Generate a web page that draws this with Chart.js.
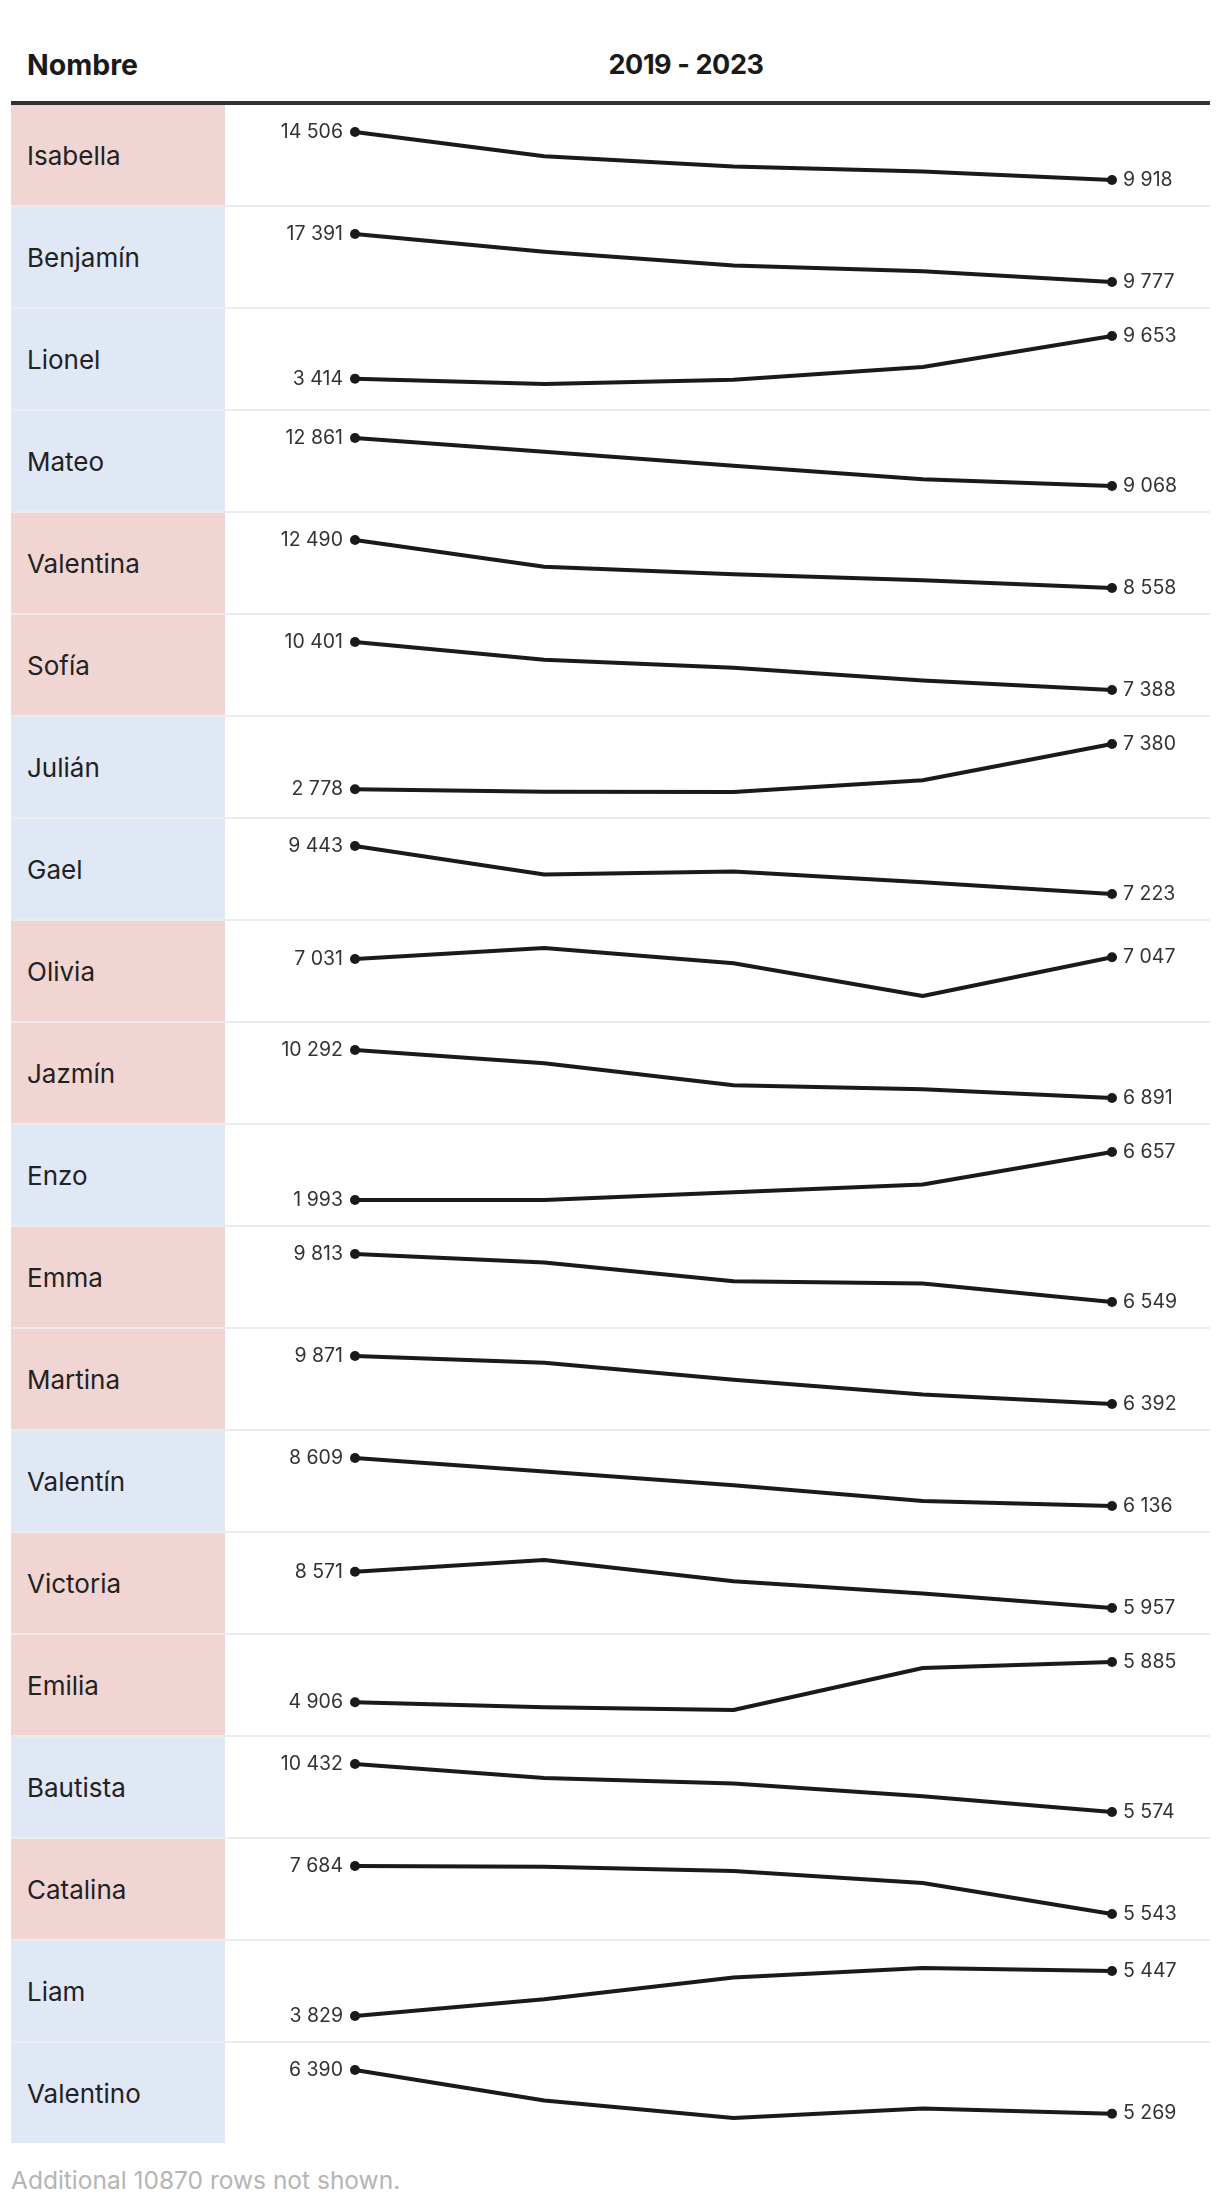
<!DOCTYPE html>
<html lang="es">
<head>
<meta charset="utf-8">
<title>Nombres 2019 - 2023</title>
<script src="https://cdn.jsdelivr.net/npm/chart.js@4"></script>
<style>
    body { margin: 0; background: #fff; font-family: Inter, Roboto, sans-serif; color: #1a1a1a; }
    .tabla { position: absolute; left: 11px; top: 0; width: 1199px; }
    .cabecera { position: relative; height: 101px; border-bottom: 4px solid #333; }
    .cabecera div { position: absolute; top: 48px; font-size: 27px; font-weight: 700; line-height: 34px; letter-spacing: -0.4px; }
    .fila { display: flex; height: 100px; border-bottom: 2px solid rgba(0, 0, 0, 0.075); }
    .fila:last-child { border-bottom: none; }
    .nombre { width: 198px; padding-left: 16px; display: flex; align-items: center; font-size: 26px; color: #222; }
    .spark { position: relative; width: 985px; height: 100px; }
    .pie { margin-top: 22px; font-size: 24.5px; color: #b5b5b5; line-height: 30px; }
</style>
</head>
<body>
<div class="tabla">
    <div class="cabecera">
        <div style="left:16px; font-size:28.5px; letter-spacing:0;">Nombre</div>
        <div style="left:675px; transform:translateX(-50%);">2019 - 2023</div>
    </div>
    <div id="filas"></div>
    <div class="pie">Additional 10870 rows not shown.</div>
</div>

<script>
const anios = ['2019', '2020', '2021', '2022', '2023'];

const nombres = ['Isabella', 'Benjamín', 'Lionel', 'Mateo', 'Valentina', 'Sofía', 'Julián', 'Gael', 'Olivia', 'Jazmín',
    'Enzo', 'Emma', 'Martina', 'Valentín', 'Victoria', 'Emilia', 'Bautista', 'Catalina', 'Liam', 'Valentino'];

// F = femenino, M = masculino
const generos = ['F', 'M', 'M', 'M', 'F', 'F', 'M', 'M', 'F', 'F',
    'M', 'F', 'F', 'M', 'F', 'F', 'M', 'F', 'M', 'M'];

// valores 2019..2023 por nombre (los intermedios)
const valores = [
    [14506, 12196, 11201, 10720, 9918],
    [17391, 14569, 12386, 11481, 9777],
    [3414, 2640, 3268, 5123, 9653],
    [12861, 11773, 10659, 9598, 9068],
    [12490, 10306, 9677, 9186, 8558],
    [10401, 9284, 8779, 7978, 7388],
    [2778, 2520, 2505, 3699, 7380],
    [9443, 8125, 8265, 7770, 7223],
    [7031, 7135, 6990, 6680, 7047],
    [10292, 9347, 7789, 7505, 6891],
    [1993, 1998, 2743, 3493, 6657],
    [9813, 9242, 7964, 7804, 6549],
    [9871, 9378, 8142, 7076, 6392],
    [8609, 7917, 7208, 6395, 6136],
    [8571, 9419, 7893, 6998, 5957],
    [4906, 4783, 4718, 5738, 5885],
    [10432, 9005, 8461, 7171, 5574],
    [7684, 7652, 7457, 6928, 5543],
    [3829, 4433, 5218, 5556, 5447],
    [6390, 5606, 5157, 5399, 5269]
];

const coloresGenero = { F: '#f1d5d2', M: '#e0e7f5' };

function formatar(n) {
    return String(n).replace(/\B(?=(\d{3})+(?!\d))/g, ' ');
}

// rótulos do primeiro e último ponto
const rotulosExtremos = {
    id: 'rotulosExtremos',
    afterDatasetsDraw(chart) {
        const ctx = chart.ctx;
        const pts = chart.getDatasetMeta(0).data;
        const dados = chart.data.datasets[0].data;
        const ult = pts.length - 1;
        ctx.save();
        ctx.font = '19.5px Inter, Roboto, sans-serif';
        ctx.fillStyle = '#333';
        ctx.textBaseline = 'middle';
        ctx.textAlign = 'right';
        ctx.fillText(formatar(dados[0]), pts[0].x - 12, pts[0].y);
        ctx.textAlign = 'left';
        ctx.fillText(formatar(dados[ult]), pts[ult].x + 11, pts[ult].y);
        ctx.restore();
    }
};

const container = document.getElementById('filas');

nombres.forEach((nome, i) => {
    const fila = document.createElement('div');
    fila.className = 'fila';
    fila.innerHTML = `
        <div class="nombre" style="background:${coloresGenero[generos[i]]}">${nome}</div>
        <div class="spark"><canvas id="spark-${i}"></canvas></div>`;
    container.appendChild(fila);

    const ctx = document.getElementById(`spark-${i}`).getContext('2d');
    new Chart(ctx, {
        type: 'line',
        data: {
            labels: anios,
            datasets: [{
                data: valores[i],
                borderColor: '#1a1a1a',
                borderWidth: 4,
                borderJoinStyle: 'round',
                pointRadius: anios.map((a, k) => (k === 0 || k === anios.length - 1) ? 5 : 0),
                pointBackgroundColor: '#1a1a1a',
                pointBorderWidth: 0,
                tension: 0,
                clip: false
            }]
        },
        options: {
            responsive: true,
            maintainAspectRatio: false,
            animation: false,
            events: [],
            layout: { padding: { left: 130, right: 98, top: 27, bottom: 25 } },
            plugins: { legend: { display: false }, tooltip: { enabled: false } },
            scales: {
                x: { display: false, offset: false },
                y: { display: false, bounds: 'data', grace: 0 }
            }
        },
        plugins: [rotulosExtremos]
    });
});
</script>
</body>
</html>
